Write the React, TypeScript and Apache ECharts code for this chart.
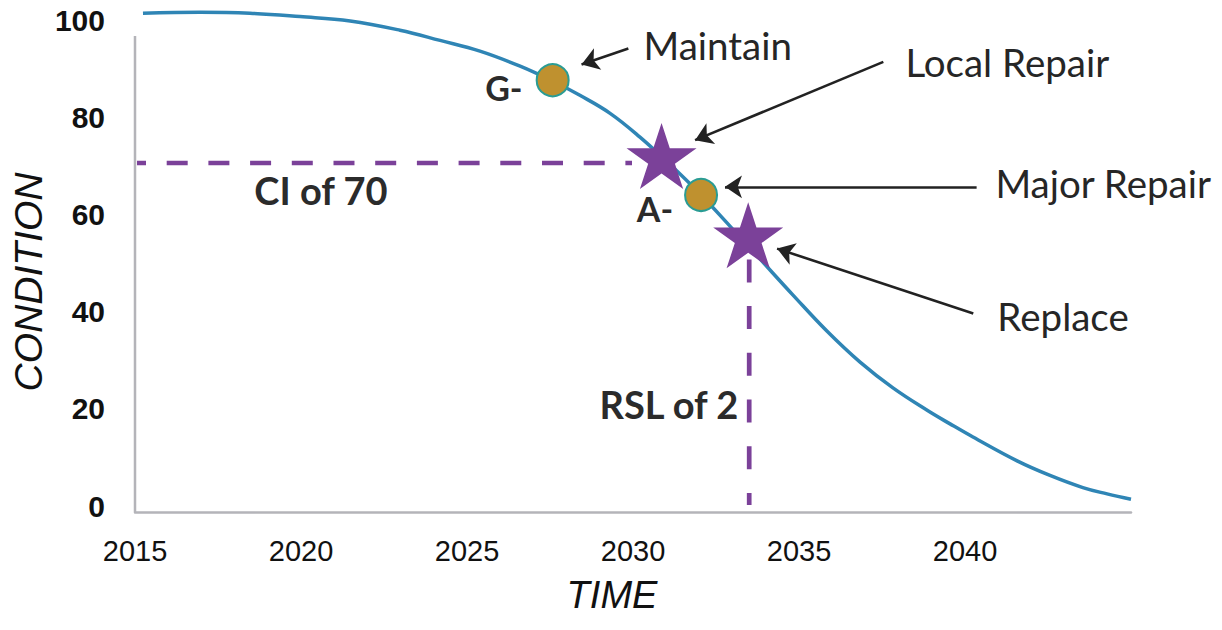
import React, { useEffect, useRef } from "react";
import * as echarts from "echarts";

// ---- data ----
const curveYears = [2015.24, 2016.96, 2018.46, 2019.97, 2021.48, 2022.98, 2024.19, 2025.39, 2026.6, 2027.59, 2028.4, 2029.31, 2030.21, 2031.11, 2032.02, 2032.92, 2033.83, 2034.82, 2035.84, 2036.84, 2037.83, 2038.86, 2039.55, 2040.24, 2041.57, 2042.56, 2043.55, 2044.28, 2045.0];
const curveValues = [101.4, 101.6, 101.4, 100.7, 99.8, 97.9, 95.8, 93.6, 90.5, 87.4, 84.5, 80.8, 75.9, 70.3, 64.2, 57.6, 50.8, 43.4, 36.0, 29.6, 24.3, 19.7, 16.9, 14.2, 9.3, 6.3, 3.8, 2.5, 1.4];

const circleYears = [2027.58, 2032.05];
const circleValues = [87.6, 64.0];
const starYears = [2030.86, 2033.47];
const starValues = [72.0, 55.7];

const ciLineYears = [2015.06, 2029.97];
const ciLineValues = [70.6, 70.6];
const rslLineYears = [2033.5, 2033.5];
const rslLineValues = [55, 0.2];

const yTickLabels = [0, 20, 40, 60, 80, 100];
const xMin = 2015;
const xMax = 2045;
const xLastLabel = 2040;
const yMin = -1.23;
const yMax = 100;
const yAxisLineTop = 96.7;

const noteTexts = ["Maintain", "Local Repair", "Major Repair", "Replace"];
const noteYears = [2030.3, 2038.19, 2040.9, 2040.96];
const noteValues = [94.9, 91.4, 66.5, 39.2];

const arrowFromYears = [2029.86, 2037.54, 2040.35, 2040.25];
const arrowFromValues = [94.14, 91.38, 65.67, 39.63];
const arrowToYears = [2028.45, 2031.87, 2032.77, 2034.34];
const arrowToValues = [90.85, 75.28, 65.67, 52.96];

const boldTexts = ["G-", "A-", "CI of 70", "RSL of 2"];
const boldYears = [2026.11, 2030.66, 2020.6, 2031.08];
const boldValues = [86.2, 61.3, 65.0, 21.0];
const boldSizes = [34, 34, 38, 38];

const STAR =
  "path://M0,-1 L0.2245,-0.309 L0.9511,-0.309 L0.3633,0.118 L0.5878,0.809 L0,0.382 L-0.5878,0.809 L-0.3633,0.118 L-0.9511,-0.309 L-0.2245,-0.309 Z";

const zip = (a: number[], b: number[]) => a.map((v, i) => [v, b[i]]);

export default function App() {
  const ref = useRef<HTMLDivElement>(null);
  useEffect(() => {
    if (!ref.current) return;
    const chart = echarts.init(ref.current, null, { renderer: "svg" });
    const purple = "#7b4199";
    const axisGrey = "#b4b4b9";
    chart.setOption({
      animation: false,
      backgroundColor: "#ffffff",
      grid: { left: 135, right: 91, top: 20, bottom: 118 },
      xAxis: {
        type: "value",
        min: xMin,
        max: xMax,
        interval: 5,
        axisLine: { show: true, onZero: false, lineStyle: { color: axisGrey, width: 2.5 } },
        axisTick: { show: false },
        splitLine: { show: false },
        axisLabel: {
          margin: 24,
          fontSize: 29,
          color: "#111111",
          fontFamily: "Liberation Sans, Arial, sans-serif",
          formatter: (v: number) => (v <= xLastLabel ? String(v) : ""),
        },
      },
      yAxis: {
        type: "value",
        min: yMin,
        max: yMax,
        axisLine: { show: false },
        axisTick: { show: false },
        splitLine: { show: false },
        axisLabel: {
          customValues: yTickLabels,
          margin: 30,
          fontSize: 30,
          fontWeight: "bold",
          color: "#111111",
          fontFamily: "Liberation Sans, Arial, sans-serif",
        },
      },
      graphic: [
        {
          type: "text",
          x: 28,
          y: 282,
          rotation: Math.PI / 2,
          style: {
            text: "CONDITION",
            fontSize: 39,
            fontStyle: "italic",
            fontFamily: "Liberation Sans, Arial, sans-serif",
            fill: "#111111",
            align: "center",
            verticalAlign: "middle",
          },
        },
        {
          type: "text",
          x: 612,
          y: 595,
          style: {
            text: "TIME",
            fontSize: 38,
            fontStyle: "italic",
            fontFamily: "Liberation Sans, Arial, sans-serif",
            fill: "#111111",
            align: "center",
            verticalAlign: "middle",
          },
        },
      ],
      series: [
        {
          name: "yAxisLine",
          type: "line",
          silent: true,
          symbol: "none",
          data: [
            [xMin, yMin],
            [xMin, yAxisLineTop],
          ],
          lineStyle: { color: axisGrey, width: 2.5 },
          z: 1,
        },
        {
          name: "CI line",
          type: "line",
          silent: true,
          symbol: "none",
          data: zip(ciLineYears, ciLineValues),
          lineStyle: { color: purple, width: 4.5, type: [21, 20.7], dashOffset: 12, cap: "butt" },
          z: 2,
        },
        {
          name: "RSL line",
          type: "line",
          silent: true,
          symbol: "none",
          data: zip(rslLineYears, rslLineValues),
          lineStyle: { color: purple, width: 4.7, type: [23, 23.7], dashOffset: 25.6, cap: "butt" },
          z: 2,
        },
        {
          name: "Condition",
          type: "line",
          smooth: 0.4,
          symbol: "none",
          clip: false,
          data: zip(curveYears, curveValues),
          lineStyle: { color: "#2f85b5", width: 3.5 },
          z: 3,
        },
        {
          name: "Arrows",
          type: "line",
          data: [],
          silent: true,
          markLine: {
            silent: true,
            symbol: ["none", "arrow"],
            symbolSize: 17,
            label: { show: false },
            lineStyle: { color: "#222222", width: 2.6, type: "solid" },
            data: arrowFromYears.map((x, i) => [
              { coord: [x, arrowFromValues[i]] },
              { coord: [arrowToYears[i], arrowToValues[i]] },
            ]),
          },
          z: 4,
        },
        {
          name: "Grades",
          type: "scatter",
          symbol: "circle",
          symbolSize: 32,
          data: zip(circleYears, circleValues),
          itemStyle: { color: "#bf912f", borderColor: "#2a9c94", borderWidth: 2, opacity: 1 },
          z: 5,
        },
        {
          name: "Actions",
          type: "scatter",
          symbol: STAR,
          symbolSize: [70, 66],
          data: zip(starYears, starValues),
          itemStyle: { color: purple, opacity: 1 },
          z: 6,
        },
        {
          name: "Notes",
          type: "scatter",
          symbolSize: 1,
          itemStyle: { color: "#ffffff", opacity: 1 },
          silent: true,
          data: noteTexts.map((t, i) => ({
            value: [noteYears[i], noteValues[i]],
            label: {
              show: true,
              position: "right",
              distance: 0,
              formatter: t,
              fontSize: 38.5,
              fontFamily: "Lato, 'Open Sans', sans-serif",
              color: "#262626",
              opacity: 1,
            },
          })),
          z: 7,
        },
        {
          name: "BoldNotes",
          type: "scatter",
          symbolSize: 1,
          itemStyle: { color: "#ffffff", opacity: 1 },
          silent: true,
          data: boldTexts.map((t, i) => ({
            value: [boldYears[i], boldValues[i]],
            label: {
              show: true,
              position: "inside",
              formatter: t,
              fontSize: boldSizes[i],
              fontWeight: "bold",
              fontFamily: "Lato, 'Open Sans', sans-serif",
              color: "#2b2b2b",
              textBorderWidth: 0,
              opacity: 1,
            },
          })),
          z: 7,
        },
      ],
    });
    return () => chart.dispose();
  }, []);
  return (
    <div
      ref={ref}
      style={{ position: "fixed", left: 0, top: 0, width: 1222, height: 630, background: "#fff" }}
    />
  );
}
